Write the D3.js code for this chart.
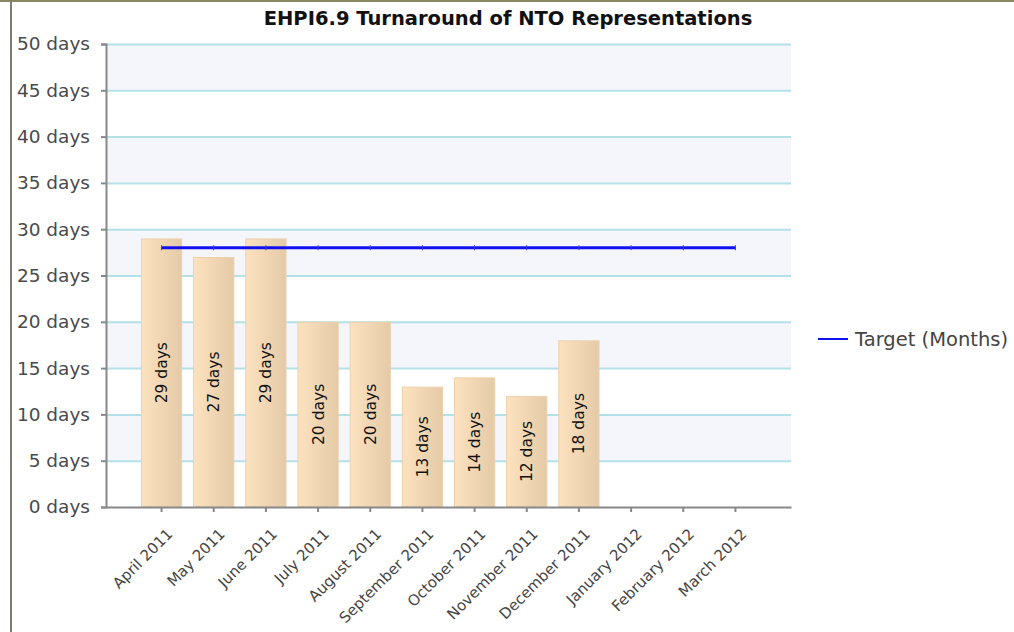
<!DOCTYPE html>
<html>
<head>
<meta charset="utf-8">
<script src="https://d3js.org/d3.v7.min.js"></script>
<title>EHPI6.9 Turnaround of NTO Representations</title>
<style>
body { margin: 0; background: #fff; }
text { font-family: "DejaVu Sans", Verdana, sans-serif; }
</style>
</head>
<body>
<script>

// chart data
var months = ["April 2011", "May 2011", "June 2011", "July 2011", "August 2011",
  "September 2011", "October 2011", "November 2011", "December 2011",
  "January 2012", "February 2012", "March 2012"];
var days = [29, 27, 29, 20, 20, 13, 14, 12, 18, null, null, null];
var target = [28, 28, 28, 28, 28, 28, 28, 28, 28, 28, 28, 28];
var yTicks = [0, 5, 10, 15, 20, 25, 30, 35, 40, 45, 50];

var width = 1014,
    height = 632;

var plotL = 106, plotR = 791, plotT = 44, plotB = 507;

var svg = d3.select( "body" )
  .append( "svg" )
  .attr( "width", width )
  .attr( "height", height );

// frame
svg.append( "line" ).attr( "x1", 0 ).attr( "x2", width ).attr( "y1", 1 ).attr( "y2", 1 )
  .attr( "stroke", "#8a8662" ).attr( "stroke-width", 2 );
svg.append( "line" ).attr( "x1", 11 ).attr( "x2", 11 ).attr( "y1", 0 ).attr( "y2", height )
  .attr( "stroke", "#7d7d70" ).attr( "stroke-width", 2 );

var x = d3.scaleBand()
    .domain( months )
    .range( [plotL, plotR] )
    .paddingInner( 0.21 )
    .paddingOuter( 0.67 );

var y = d3.scaleLinear()
    .domain( [0, 50] )
    .range( [plotB, plotT] );

// alternating bands
var g = svg.append( "g" );
for (var i = 0; i < yTicks.length - 1; i++) {
  if (i % 2 == 0) continue;
  g.append( "rect" )
    .attr( "x", plotL )
    .attr( "y", y(yTicks[i + 1]) )
    .attr( "width", plotR - plotL )
    .attr( "height", y(yTicks[i]) - y(yTicks[i + 1]) )
    .attr( "fill", "#f5f6fc" );
}

g.selectAll( "line.grid" )
  .data( yTicks.slice(1) )
  .enter()
  .append( "line" )
  .attr( "class", "grid" )
  .attr( "x1", plotL ).attr( "x2", plotR )
  .attr( "y1", function(d) { return y(d) + 0.5; } )
  .attr( "y2", function(d) { return y(d) + 0.5; } )
  .attr( "stroke", "#b4e0e8" )
  .attr( "stroke-width", 2 );

// bar gradient
var grad = svg.append( "defs" ).append( "linearGradient" )
  .attr( "id", "barGrad" );
grad.append( "stop" ).attr( "offset", "0%" ).attr( "stop-color", "#fde2c0" );
grad.append( "stop" ).attr( "offset", "100%" ).attr( "stop-color", "#e5caa8" );

var barData = months.map(function(m, i) { return { m: m, v: days[i] }; })
  .filter(function(d) { return d.v != null; });

g.selectAll( "rect.bar" )
  .data( barData )
  .enter()
  .append( "rect" )
  .attr( "class", "bar" )
  .attr( "x", function(d) { return x(d.m) + 0.5; } )
  .attr( "y", function(d) { return y(d.v) + 0.5; } )
  .attr( "width", x.bandwidth() - 1 )
  .attr( "height", function(d) { return plotB - y(d.v) - 1; } )
  .attr( "fill", "url(#barGrad)" )
  .attr( "stroke", "#ecd0ac" );

g.selectAll( "text.val" )
  .data( barData )
  .enter()
  .append( "text" )
  .attr( "class", "val" )
  .attr( "transform", function(d) {
    var cx = x(d.m) + x.bandwidth() / 2;
    var cy = (y(d.v) + plotB) / 2;
    return "translate(" + cx + "," + cy + ") rotate(-90)";
  })
  .attr( "text-anchor", "middle" )
  .attr( "dy", "0.35em" )
  .attr( "font-size", 15.5 )
  .attr( "fill", "#111" )
  .text( function(d) { return d.v + " days"; } );

// target line
var line = d3.line()
  .x( function(d, i) { return x(months[i]) + x.bandwidth() / 2; } )
  .y( function(d) { return y(d); } );

g.append( "path" )
  .datum( target )
  .attr( "d", line )
  .attr( "fill", "none" )
  .attr( "stroke", "#1010f0" )
  .attr( "stroke-width", 3 );

g.selectAll( "line.mark" )
  .data( target )
  .enter()
  .append( "line" )
  .attr( "class", "mark" )
  .attr( "x1", function(d, i) { return x(months[i]) + x.bandwidth() / 2; } )
  .attr( "x2", function(d, i) { return x(months[i]) + x.bandwidth() / 2; } )
  .attr( "y1", function(d) { return y(d) - 2.5; } )
  .attr( "y2", function(d) { return y(d) + 2.5; } )
  .attr( "stroke", "#3a3af0" )
  .attr( "stroke-width", 1 );

// axes
var yAxis = svg.append( "g" )
  .attr( "transform", "translate(" + plotL + ",0)" )
  .call( d3.axisLeft(y).tickValues(yTicks).tickSize(5).tickPadding(11)
    .tickFormat(function(d) { return d + " days"; }) );
yAxis.select( ".domain" ).attr( "stroke", "#888" ).attr( "stroke-width", 2 );
yAxis.selectAll( ".tick line" ).attr( "stroke", "#888" ).attr( "stroke-width", 2 );
yAxis.selectAll( "text" ).attr( "font-size", 18.5 ).attr( "fill", "#4a4a4a" )
  .style( "font-family", "DejaVu Sans" );

var xAxis = svg.append( "g" )
  .attr( "transform", "translate(0," + plotB + ")" )
  .call( d3.axisBottom(x).tickSize(5).tickSizeOuter(0) );
xAxis.select( ".domain" ).attr( "stroke", "#888" ).attr( "stroke-width", 2 );
xAxis.selectAll( ".tick line" ).attr( "stroke", "#888" ).attr( "stroke-width", 2 );
xAxis.selectAll( "text" )
  .attr( "font-size", 15 )
  .attr( "fill", "#444" )
  .attr( "text-anchor", "end" )
  .attr( "transform", "translate(12,28) rotate(-45)" )
  .attr( "y", 0 )
  .attr( "dy", 0 )
  .style( "font-family", "DejaVu Sans" );

// title
svg.append( "text" )
  .attr( "x", 508 )
  .attr( "y", 25 )
  .attr( "text-anchor", "middle" )
  .attr( "font-size", 19.5 )
  .attr( "font-weight", "bold" )
  .attr( "fill", "#111" )
  .text( "EHPI6.9 Turnaround of NTO Representations" );

// legend
svg.append( "line" )
  .attr( "x1", 818 ).attr( "x2", 848 ).attr( "y1", 339 ).attr( "y2", 339 )
  .attr( "stroke", "#1010f0" ).attr( "stroke-width", 2 );
svg.append( "text" )
  .attr( "x", 855 ).attr( "y", 339 )
  .attr( "dy", "0.35em" )
  .attr( "font-size", 19.5 )
  .attr( "fill", "#444" )
  .text( "Target (Months)" );

</script>
</body>
</html>
